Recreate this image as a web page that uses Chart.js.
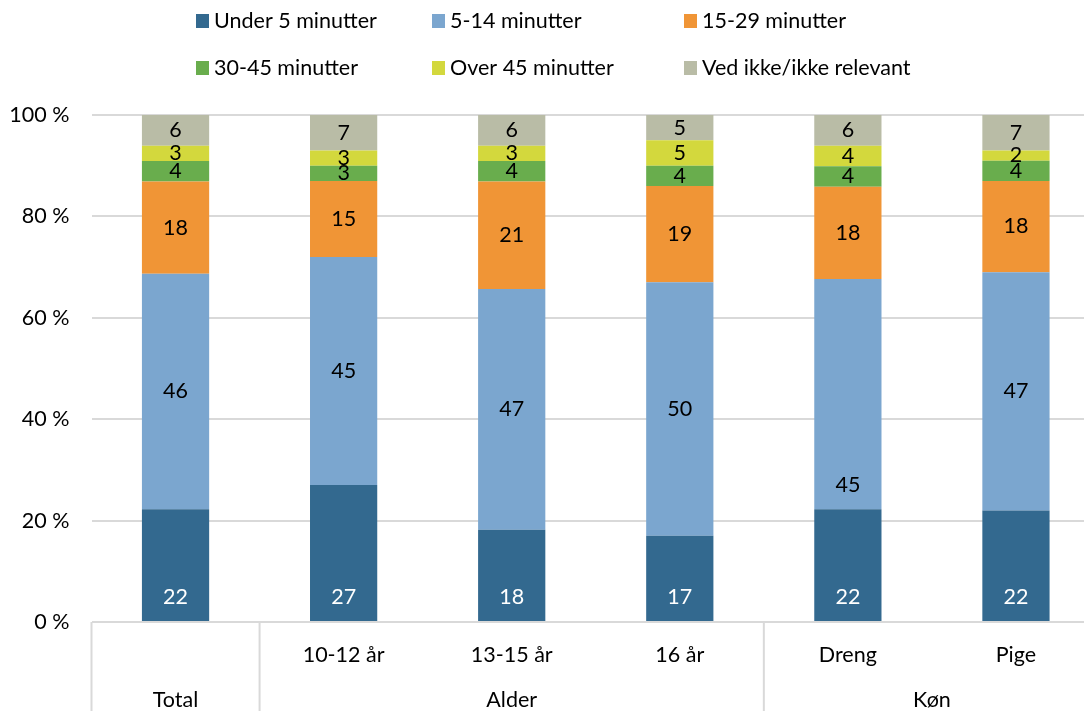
<!DOCTYPE html>
<html>
<head>
<meta charset="utf-8">
<script src="https://cdn.jsdelivr.net/npm/chart.js@4/dist/chart.umd.min.js"></script>
<style>
  html, body { margin: 0; padding: 0; background: #fff; overflow: hidden; }
  #wrap { width: 1100px; height: 711px; }
</style>
</head>
<body>
<div id="wrap"><canvas id="myChart" width="1100" height="711"></canvas></div>
<script>
const categories = ["Total", "10-12 år", "13-15 år", "16 år", "Dreng", "Pige"];
const groups = [
  { label: "Total", from: 0, to: 0 },
  { label: "Alder", from: 1, to: 3 },
  { label: "Køn", from: 4, to: 5 }
];
const seriesNames = ["Under 5 minutter", "5-14 minutter", "15-29 minutter",
  "30-45 minutter", "Over 45 minutter", "Ved ikke/ikke relevant"];
const under5 = [22, 27, 18, 17, 22, 22];
const min5to14 = [46, 45, 47, 50, 45, 47];
const min15to29 = [18, 15, 21, 19, 18, 18];
const min30to45 = [4, 3, 4, 4, 4, 4];
const over45 = [3, 3, 3, 5, 4, 2];
const vedIkke = [6, 7, 6, 5, 6, 7];
const yTicks = [0, 20, 40, 60, 80, 100];

const colors = ["#33698f", "#7ba6cf", "#f09536", "#69ad4d", "#d3d83d", "#b9bca6"];
const series = [under5, min5to14, min15to29, min30to45, over45, vedIkke];
const totals = categories.map((c, i) => series.reduce((s, arr) => s + arr[i], 0));

const FONT = "Lato, Carlito, sans-serif";
const FSIZE = 21.5;

// legend, drawn as a fixed grid like the original
const legendPlugin = {
  id: "gridLegend",
  afterDraw(chart) {
    const ctx = chart.ctx;
    const cols = [196, 432, 684];
    const rows = [21, 68];
    ctx.save();
    ctx.font = FSIZE + "px " + FONT;
    ctx.textBaseline = "middle";
    ctx.textAlign = "left";
    seriesNames.forEach((name, i) => {
      const x = cols[i % 3], y = rows[Math.floor(i / 3)];
      ctx.fillStyle = colors[i];
      ctx.fillRect(x, y - 7, 13, 14);
      ctx.fillStyle = "#000";
      ctx.fillText(name, x + 18, y);
    });
    ctx.restore();
  }
};

// value labels inside the segments
const labelPlugin = {
  id: "segLabels",
  afterDatasetsDraw(chart) {
    const ctx = chart.ctx;
    ctx.save();
    ctx.font = FSIZE + "px " + FONT;
    ctx.textAlign = "center";
    ctx.textBaseline = "middle";
    series.forEach((arr, d) => {
      const meta = chart.getDatasetMeta(d);
      meta.data.forEach((bar, j) => {
        const atBase = d === 0 || (d === 1 && j === 4);
        const y = atBase ? bar.base - 24 : (bar.y + bar.base) / 2;
        ctx.fillStyle = d === 0 ? "#fff" : "#000";
        ctx.fillText(String(arr[j]), bar.x, y);
      });
    });
    ctx.restore();
  }
};

// two-level category axis with separators
const axisPlugin = {
  id: "groupAxis",
  afterDraw(chart) {
    const ctx = chart.ctx;
    const x = chart.scales.x;
    const area = chart.chartArea;
    const step = (area.right - area.left) / categories.length;
    ctx.save();
    ctx.strokeStyle = "#d9d9d9";
    ctx.lineWidth = 2;
    const seps = [0, 1, 4];
    seps.forEach(k => {
      const px = area.left + k * step;
      ctx.beginPath();
      ctx.moveTo(px, area.bottom);
      ctx.lineTo(px, 711);
      ctx.stroke();
    });
    ctx.font = FSIZE + "px " + FONT;
    ctx.fillStyle = "#000";
    ctx.textAlign = "center";
    ctx.textBaseline = "middle";
    categories.forEach((c, i) => {
      if (i === 0) return;
      ctx.fillText(c, x.getPixelForValue(i), 655);
    });
    groups.forEach(g => {
      const cx = (x.getPixelForValue(g.from) + x.getPixelForValue(g.to)) / 2;
      ctx.fillText(g.label, cx, 700);
    });
    ctx.restore();
  }
};

const ctx = document.getElementById("myChart").getContext("2d");
new Chart(ctx, {
  type: "bar",
  data: {
    labels: categories,
    datasets: series.map((arr, d) => ({
      label: seriesNames[d],
      data: arr.map((v, i) => v / totals[i] * 100),
      backgroundColor: colors[d],
      borderWidth: 0,
      barPercentage: 0.4,
      categoryPercentage: 1
    }))
  },
  options: {
    responsive: false,
    animation: false,
    layout: { padding: { top: 115, bottom: 89, right: 0, left: 0 } },
    plugins: {
      legend: { display: false },
      tooltip: { enabled: false }
    },
    scales: {
      x: {
        stacked: true,
        afterFit(scale) { scale.height = 0; },
        ticks: { display: false },
        grid: { display: false },
        border: { display: false }
      },
      y: {
        stacked: true,
        min: 0,
        max: 100,
        afterFit(scale) { scale.width = 91.5; },
        afterBuildTicks(scale) { scale.ticks = yTicks.map(v => ({ value: v })); },
        ticks: {
          color: "#000",
          padding: 22,
          font: { family: FONT, size: FSIZE },
          callback: v => v + " %"
        },
        grid: { color: "#d9d9d9", lineWidth: 2, drawTicks: false },
        border: { display: false }
      }
    }
  },
  plugins: [legendPlugin, labelPlugin, axisPlugin]
});
</script>
</body>
</html>
